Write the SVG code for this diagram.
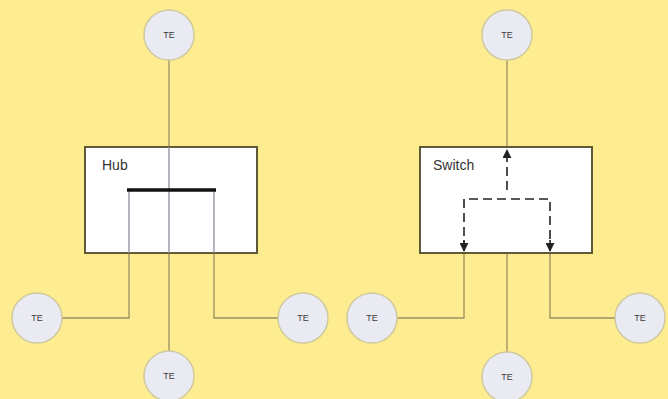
<svg xmlns="http://www.w3.org/2000/svg" width="668" height="399" viewBox="0 0 668 399">
<defs>
<style>
.te circle{fill:#E9EAF2;stroke:#CFC9A0;stroke-width:1.5}
.te text{font-family:"Liberation Sans",Arial,sans-serif;font-size:9px;fill:#3a3a3a;text-anchor:middle}
.box{fill:#FFFFFF;stroke:#5E5A38;stroke-width:2}
.lbl{font-family:"Liberation Sans",Arial,sans-serif;font-size:14px;fill:#333}
.ln{fill:none;stroke:#9A8F66;stroke-width:1.3}
.inner{fill:none;stroke:#8E8E9A;stroke-width:1.3}
.dash{fill:none;stroke:#222;stroke-width:1.6;stroke-dasharray:9,5}
</style>
<marker id="ah" viewBox="0 0 10 10" refX="9" refY="5" markerWidth="9" markerHeight="9" orient="auto" markerUnits="userSpaceOnUse">
<path d="M0,0 L10,5 L0,10 Z" fill="#222"/>
</marker>
</defs>
<rect width="668" height="399" fill="#FEEC91"/>
<g id="connectors">
<path class="ln" d="M169,60 V147 M169,253 V351"/>
<path class="ln" d="M129,253 V318 H62 M214,253 V318 H278"/>
<path class="ln" d="M507,60 V147 M507,253 V352"/>
<path class="ln" d="M464,253 V318 H397 M550,253 V318 H615"/>
</g>
<g id="hub">
<rect class="box" x="85" y="147" width="172" height="106"/>
<text class="lbl" x="102" y="170">Hub</text>
<path class="inner" d="M169,147 V253 M129,190 V253 M214,190 V253"/>
<path d="M127,190 H216" stroke="#111" stroke-width="3.5"/>
</g>
<g id="switch">
<rect class="box" x="420" y="147" width="172" height="106"/>
<text class="lbl" x="433" y="170">Switch</text>
<path class="dash" d="M507,190 V150" marker-end="url(#ah)"/>
<path class="dash" d="M464,250 V199 H550 V250"/>
<path d="M464,240 V251" stroke="#222" stroke-width="1.6" marker-end="url(#ah)"/>
<path d="M550,240 V251" stroke="#222" stroke-width="1.6" marker-end="url(#ah)"/>
</g>
<g id="te-hub-top" class="te"><circle cx="169" cy="35" r="25"/><text x="169" y="38">TE</text></g>
<g id="te-hub-bottom" class="te"><circle cx="169" cy="376" r="25"/><text x="169" y="379">TE</text></g>
<g id="te-hub-left" class="te"><circle cx="37" cy="318" r="25"/><text x="37" y="321">TE</text></g>
<g id="te-hub-right" class="te"><circle cx="303" cy="318" r="25"/><text x="303" y="321">TE</text></g>
<g id="te-sw-top" class="te"><circle cx="507" cy="35" r="25"/><text x="507" y="38">TE</text></g>
<g id="te-sw-bottom" class="te"><circle cx="507" cy="377" r="25"/><text x="507" y="380">TE</text></g>
<g id="te-sw-left" class="te"><circle cx="372" cy="318" r="25"/><text x="372" y="321">TE</text></g>
<g id="te-sw-right" class="te"><circle cx="640" cy="318" r="25"/><text x="640" y="321">TE</text></g>
</svg>
